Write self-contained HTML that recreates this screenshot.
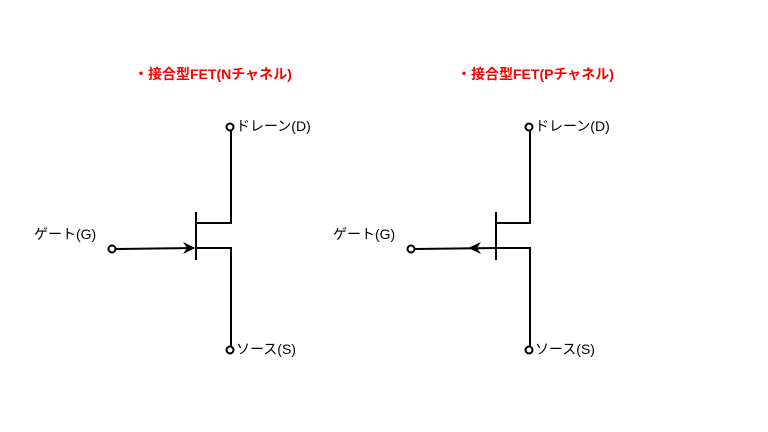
<!DOCTYPE html>
<html><head><meta charset="utf-8"><style>
html,body{margin:0;padding:0;background:#fff;}
svg{display:block;}
text{font-family:"Liberation Sans","Noto Sans CJK JP",sans-serif;}
</style></head><body>
<svg width="768" height="432" viewBox="0 0 768 432" xmlns="http://www.w3.org/2000/svg">
<g font-size="14" font-weight="bold" fill="#ff0000">
<text x="134" y="79">・接合型FET(Nチャネル)</text>
<text x="457" y="79">・接合型FET(Pチャネル)</text>
</g>
<g stroke="#000" stroke-width="2" fill="none">
<polyline points="231,128 231,223 196,223"/>
<polyline points="196,248 231,248 231,348"/>
<line x1="196" y1="212" x2="196" y2="260"/>
<line x1="116" y1="249" x2="194" y2="248"/>
<circle cx="230" cy="127" r="3.5" fill="#fff"/>
<circle cx="230" cy="350" r="3.5" fill="#fff"/>
<circle cx="112" cy="249" r="3.5" fill="#fff"/>
<polyline points="530,128 530,223 496,223"/>
<polyline points="496,248 530,248 530,348"/>
<line x1="496" y1="212" x2="496" y2="260"/>
<line x1="415" y1="249" x2="496" y2="248"/>
<circle cx="529" cy="127" r="3.5" fill="#fff"/>
<circle cx="529" cy="350" r="3.5" fill="#fff"/>
<circle cx="411" cy="249" r="3.5" fill="#fff"/>
</g>
<path d="M195,248 L183,242 L187,248 L183,254 Z" fill="#000"/>
<path d="M468,248 L481,242 L477,248 L481,254 Z" fill="#000"/>
<g font-size="14" fill="#000">
<text x="236" y="131">ドレーン(D)</text>
<text x="236" y="354">ソース(S)</text>
<text x="34" y="239">ゲート(G)</text>
<text x="535" y="131">ドレーン(D)</text>
<text x="535" y="354">ソース(S)</text>
<text x="333" y="239">ゲート(G)</text>
</g>
</svg>
</body></html>
